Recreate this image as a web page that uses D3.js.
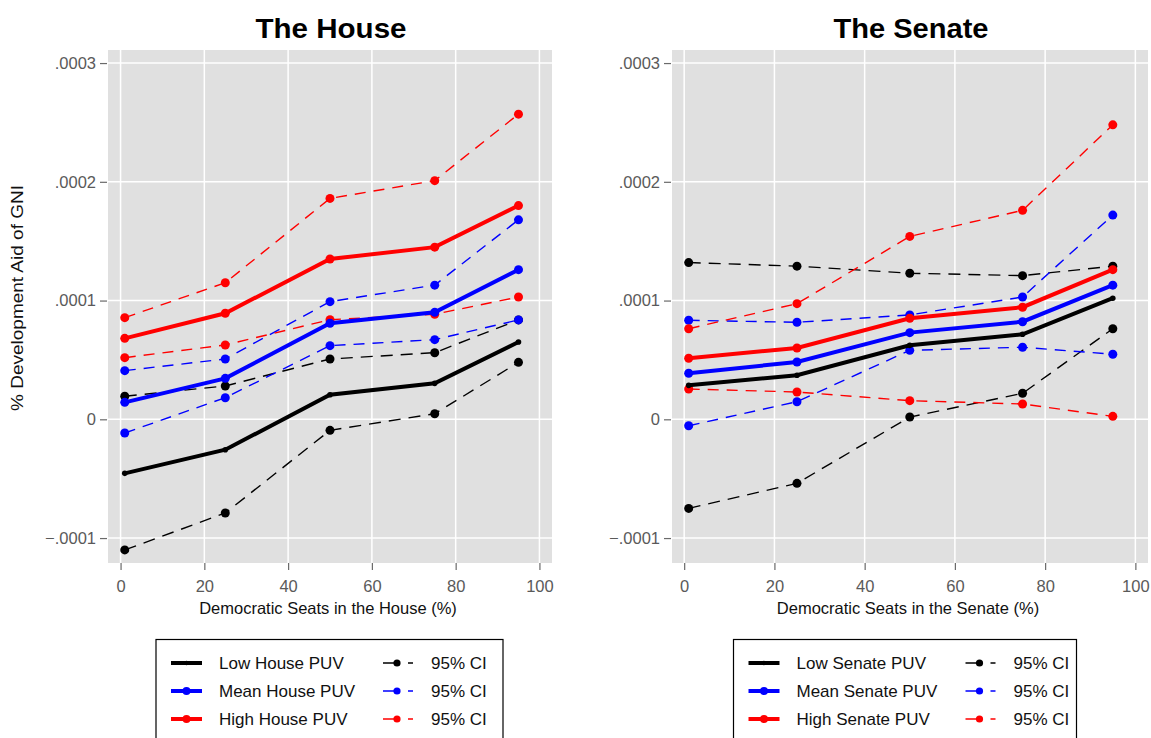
<!DOCTYPE html>
<html>
<head>
  <meta charset="UTF-8">
  <style>
    body { margin: 0; background: #fff; }
    svg { display: block; font-family: 'Liberation Sans', Arial, sans-serif; }
    .tick text { fill: #5a5a5a; font-size: 16.5px; }
    .tick line { stroke: #6a6a6a; stroke-width: 1.2; }
  </style>
</head>
<body>
<svg></svg>
<script src="https://d3js.org/d3.v7.min.js"></script>
<script>

// ---- data
const seats = [1, 25, 50, 75, 95];
const yTicks = [-0.0001, 0, 0.0001, 0.0002, 0.0003];
const xTicks = [0, 20, 40, 60, 80, 100];

// House
const houseLow      = [-0.0000455, -0.0000256, 0.0000207, 0.0000303, 0.0000651];
const houseLowLo    = [-0.000110, -0.0000789, -0.0000093, 0.0000047, 0.0000480];
const houseLowHi    = [0.0000194, 0.0000281, 0.0000508, 0.0000561, 0.0000837];
const houseMean     = [0.0000143, 0.0000345, 0.0000809, 0.0000901, 0.000126];
const houseMeanLo   = [-0.0000115, 0.0000182, 0.0000620, 0.0000671, 0.0000837];
const houseMeanHi   = [0.0000410, 0.0000508, 0.0000991, 0.000113, 0.000168];
const houseHigh     = [0.0000682, 0.0000893, 0.000135, 0.000145, 0.000180];
const houseHighLo   = [0.0000519, 0.0000626, 0.0000839, 0.0000885, 0.000103];
const houseHighHi   = [0.0000856, 0.000115, 0.000186, 0.000201, 0.000257];

// Senate
const senateLow     = [0.0000286, 0.0000371, 0.0000623, 0.0000716, 0.000102];
const senateLowLo   = [-0.0000750, -0.0000539, 0.0000019, 0.0000219, 0.0000763];
const senateLowHi   = [0.000132, 0.000129, 0.000123, 0.000121, 0.000129];
const senateMean    = [0.0000388, 0.0000483, 0.0000730, 0.0000822, 0.000113];
const senateMeanLo  = [-0.0000054, 0.0000148, 0.0000581, 0.0000607, 0.0000548];
const senateMeanHi  = [0.0000834, 0.0000817, 0.0000879, 0.000103, 0.000172];
const senateHigh    = [0.0000514, 0.0000601, 0.0000851, 0.0000944, 0.000126];
const senateHighLo  = [0.0000255, 0.0000230, 0.0000157, 0.0000129, 0.0000025];
const senateHighHi  = [0.0000763, 0.0000974, 0.000154, 0.000176, 0.000248];

const houseLegend  = ["Low House PUV", "Mean House PUV", "High House PUV"];
const senateLegend = ["Low Senate PUV", "Mean Senate PUV", "High Senate PUV"];
const ciLabel = "95% CI";

let width = 1151, height = 738;
let svg = d3.select("svg").attr("width", width).attr("height", height);

const colors = ["#000000", "#0000ff", "#ff0000"];

function drawPanel(opt) {
  const x = d3.scaleLinear().domain(opt.xDomain).range([opt.left, opt.right]);
  const y = d3.scaleLinear().domain([-0.000121, 0.000311]).range([563, 50]);
  const g = svg.append("g");

  g.append("rect")
    .attr("x", opt.left).attr("y", 50)
    .attr("width", opt.right - opt.left).attr("height", 513)
    .attr("fill", "#e0e0e0");

  // grid
  g.selectAll(".gx").data(xTicks).enter().append("line")
    .attr("x1", d => x(d)).attr("x2", d => x(d))
    .attr("y1", 50).attr("y2", 563)
    .attr("stroke", "#fff").attr("stroke-width", 1.5);
  g.selectAll(".gy").data(yTicks).enter().append("line")
    .attr("x1", opt.left).attr("x2", opt.right)
    .attr("y1", d => y(d)).attr("y2", d => y(d))
    .attr("stroke", "#fff").attr("stroke-width", 1.5);

  // axes
  const fmt = d => d === 0 ? "0" : d3.format(".4f")(d).replace("0.", ".");
  const ya = g.append("g").attr("transform", `translate(${opt.left - 1},0)`)
    .call(d3.axisLeft(y).tickValues(yTicks).tickFormat(fmt).tickSize(7).tickPadding(4));
  ya.select(".domain").remove();
  ya.selectAll("text").attr("font-family", null).attr("font-size", null);

  const xa = g.append("g").attr("transform", "translate(0,563)")
    .call(d3.axisBottom(x).tickValues(xTicks).tickSize(7).tickPadding(10));
  xa.select(".domain").remove();
  xa.selectAll("text").attr("font-family", null).attr("font-size", null);

  g.append("text")
    .attr("x", (opt.left + opt.right) / 2 - 2).attr("y", 614)
    .attr("text-anchor", "middle").attr("font-size", 16.5).attr("fill", "#111")
    .text(opt.xTitle);

  g.append("text")
    .attr("x", (opt.left + opt.right) / 2 + 1).attr("y", 37.5)
    .attr("text-anchor", "middle").attr("font-size", 27.5).attr("font-weight", "bold")
    .attr("textLength", opt.titleW).attr("lengthAdjust", "spacingAndGlyphs")
    .text(opt.title);

  const line = d3.line().x((d, i) => x(seats[i])).y(d => y(d));

  // CI lines
  opt.ci.forEach((pair, k) => {
    pair.forEach(vals => {
      g.append("path").datum(vals)
        .attr("d", line).attr("fill", "none")
        .attr("stroke", colors[k]).attr("stroke-width", 1.4)
        .attr("stroke-dasharray", k === 0 ? "12,8" : "11,8");
      g.selectAll(null).data(vals).enter().append("circle")
        .attr("cx", (d, i) => x(seats[i])).attr("cy", d => y(d))
        .attr("r", 4.5).attr("fill", colors[k]);
    });
  });

  // main lines
  opt.main.forEach((vals, k) => {
    g.append("path").datum(vals)
      .attr("d", line).attr("fill", "none")
      .attr("stroke", colors[k]).attr("stroke-width", 4);
    g.selectAll(null).data(vals).enter().append("circle")
      .attr("cx", (d, i) => x(seats[i])).attr("cy", d => y(d))
      .attr("r", k === 0 ? 2.8 : 4.5).attr("fill", colors[k]);
  });

  // legend
  const lg = g.append("g");
  lg.append("rect")
    .attr("x", opt.lgX).attr("y", 639.5)
    .attr("width", opt.lgW).attr("height", 110)
    .attr("fill", "#fff").attr("stroke", "#000").attr("stroke-width", 1.2);
  opt.labels.forEach((lab, k) => {
    const cy = 663 + k * 28;
    const lx = opt.lgX + 15;
    lg.append("line").attr("x1", lx).attr("x2", lx + 31).attr("y1", cy).attr("y2", cy)
      .attr("stroke", colors[k]).attr("stroke-width", 4);
    lg.append("circle").attr("cx", lx + 15.5).attr("cy", cy).attr("r", k === 0 ? 2.2 : 4)
      .attr("fill", colors[k]);
    lg.append("text").attr("x", opt.lgX + 63).attr("y", cy + 6)
      .attr("font-size", 17).attr("fill", "#111").text(lab);
    const cx = opt.lgX + opt.ciOff;
    lg.append("line").attr("x1", cx).attr("x2", cx + 30).attr("y1", cy).attr("y2", cy)
      .attr("stroke", colors[k]).attr("stroke-width", 1.4).attr("stroke-dasharray", "14,11");
    lg.append("circle").attr("cx", cx + 14).attr("cy", cy).attr("r", 3.6).attr("fill", colors[k]);
    lg.append("text").attr("x", cx + 48).attr("y", cy + 6)
      .attr("font-size", 17).attr("fill", "#111").text(ciLabel);
  });
}

drawPanel({
  left: 108, right: 552, xDomain: [-3, 103],
  title: "The House", titleW: 151, xTitle: "Democratic Seats in the House (%)",
  main: [houseLow, houseMean, houseHigh],
  ci: [[houseLowLo, houseLowHi], [houseMeanLo, houseMeanHi], [houseHighLo, houseHighHi]],
  labels: houseLegend, lgX: 156, lgW: 347, ciOff: 227
});

drawPanel({
  left: 672, right: 1148, xDomain: [-2.7, 102.8],
  title: "The Senate", titleW: 155, xTitle: "Democratic Seats in the Senate (%)",
  main: [senateLow, senateMean, senateHigh],
  ci: [[senateLowLo, senateLowHi], [senateMeanLo, senateMeanHi], [senateHighLo, senateHighHi]],
  labels: senateLegend, lgX: 733.5, lgW: 343, ciOff: 232
});

svg.append("text")
  .attr("transform", "translate(23,298) rotate(-90)")
  .attr("text-anchor", "middle").attr("font-size", 17).attr("fill", "#111")
  .attr("textLength", 226).attr("lengthAdjust", "spacingAndGlyphs")
  .text("% Development Aid of GNI");

</script>
</body>
</html>
